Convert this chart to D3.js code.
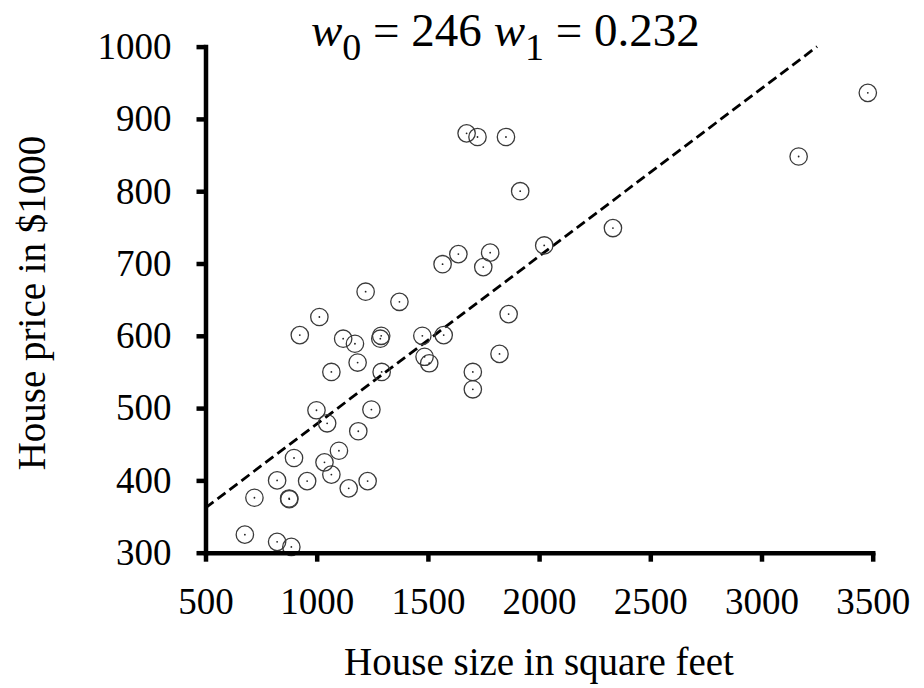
<!DOCTYPE html>
<html>
<head>
<meta charset="utf-8">
<script src="https://cdn.jsdelivr.net/npm/d3@7"></script>
<style>
  html, body { margin: 0; padding: 0; background: #fff; }
  svg { display: block; }
  text { font-family: "Liberation Serif", "Times New Roman", Times, serif; fill: #000; }
</style>
</head>
<body>
<svg id="chart" width="924" height="688"></svg>
<script>
// ---- data ----
const houseSize = [677, 822, 886, 720, 876, 877, 822, 957, 898, 1035, 1066, 1144, 1229, 1100, 1187, 1246, 999, 1047,
  1066, 1184, 1292, 924, 1012, 1119, 1172, 1286, 1290, 1220, 1372, 1475, 1571, 1485, 1506, 1702, 1702, 1822, 1863,
  1566, 1637, 1749, 1780, 2023, 1674, 1723, 1851, 1915, 2332, 3167, 3478];
const housePrice = [325, 315, 308, 376, 375, 374, 400, 399, 431, 425, 408, 389, 399, 441, 468, 498, 497, 479,
  550, 563, 550, 601, 626, 596, 589, 596, 600, 661, 647, 600, 601, 571, 562, 550, 526, 575, 630,
  699, 713, 695, 715, 725, 880, 875, 875, 800, 749, 848, 936];
const w0 = 246;
const w1 = 0.232;
const xTicks = [500, 1000, 1500, 2000, 2500, 3000, 3500];
const yTicks = [300, 400, 500, 600, 700, 800, 900, 1000];
const xLabel = "House size in square feet";
const yLabel = "House price in $1000";

const svg = d3.select("#chart");
const x = d3.scaleLinear().domain([500, 3500]).range([205.5, 872.7]);
const y = d3.scaleLinear().domain([300, 1000]).range([552.7, 46.6]);

// regression line
const lineXs = [500, (1000 - w0) / w1];
svg.append("path")
  .datum(lineXs)
  .attr("d", d3.line().x(d => x(d)).y(d => y(w0 + w1 * d)))
  .attr("fill", "none")
  .attr("stroke", "#000")
  .attr("stroke-width", 2.8)
  .attr("stroke-dasharray", "10,5");

// points
const pts = houseSize.map((s, i) => ({ s, p: housePrice[i] }));
const g = svg.append("g");
g.selectAll("circle.ring").data(pts).join("circle")
  .attr("class", "ring")
  .attr("cx", d => x(d.s)).attr("cy", d => y(d.p)).attr("r", 8.7)
  .attr("fill", "none").attr("stroke", "#3a3a3a").attr("stroke-width", 1.3);
g.selectAll("circle.dot").data(pts).join("circle")
  .attr("class", "dot")
  .attr("cx", d => x(d.s)).attr("cy", d => y(d.p)).attr("r", 0.9)
  .attr("fill", "#222");

// axes
const xAxis = d3.axisBottom(x).tickValues(xTicks).tickFormat(d3.format("d"))
  .tickSize(9).tickSizeOuter(0).tickPadding(26);
const yAxis = d3.axisLeft(y).tickValues(yTicks).tickFormat(d3.format("d"))
  .tickSize(9).tickSizeOuter(0).tickPadding(25);

const gx = svg.append("g").attr("transform", `translate(0,${y(300)})`).call(xAxis);
const gy = svg.append("g").attr("transform", `translate(${x(500)},0)`).call(yAxis);
[gx, gy].forEach(a => {
  a.select(".domain").attr("stroke", "#000").attr("stroke-width", 4.5).attr("stroke-linecap", "square");
  a.selectAll(".tick line").attr("stroke", "#000").attr("stroke-width", 4.5);
  a.selectAll(".tick text").attr("font-size", 37).attr("font-family", "Liberation Serif, Times New Roman, serif").attr("fill", "#000");
});

// axis titles
svg.append("text")
  .attr("x", 539).attr("y", 675)
  .attr("text-anchor", "middle").attr("font-size", 39)
  .text(xLabel);
svg.append("text")
  .attr("transform", "translate(45,303) rotate(-90)")
  .attr("text-anchor", "middle").attr("font-size", 39)
  .text(yLabel);

// title
const t = svg.append("text").attr("x", 311).attr("y", 46).attr("font-size", 47);
t.append("tspan").attr("font-style", "italic").text("w");
t.append("tspan").attr("font-size", 38).attr("dy", 14).text("0");
t.append("tspan").attr("dy", -14).text(" = " + w0 + " ");
t.append("tspan").attr("font-style", "italic").text("w");
t.append("tspan").attr("font-size", 38).attr("dy", 14).text("1");
t.append("tspan").attr("dy", -14).text(" = " + w1);
</script>
</body>
</html>
